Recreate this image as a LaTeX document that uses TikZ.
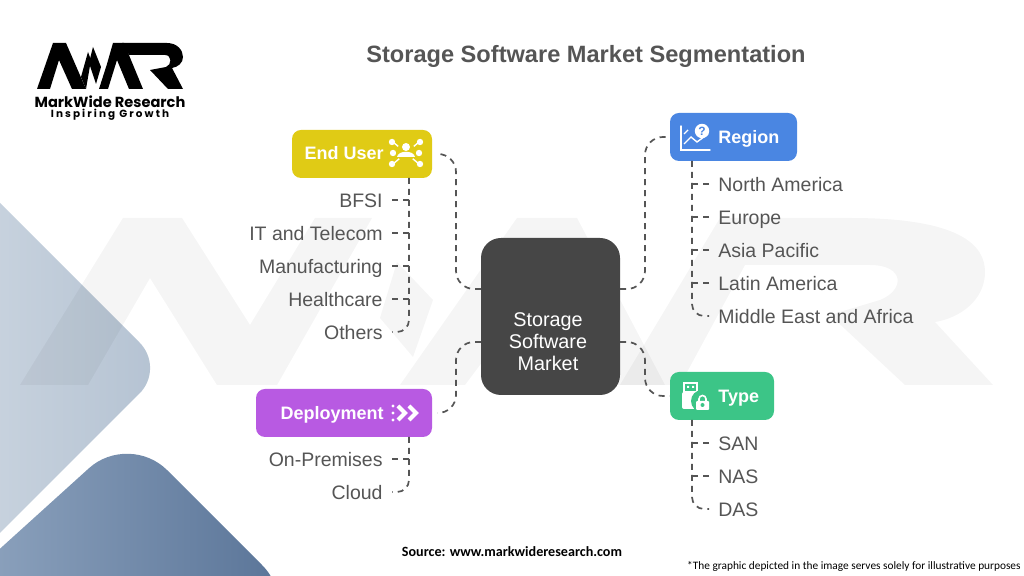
\documentclass[tikz,border=0pt]{standalone}
\usepackage{fontspec}
\setmainfont{Liberation Sans}
\newfontfamily\carlitofont{Carlito}
\newfontfamily\logofont{Poppins}
\newfontfamily\taglinefont[LetterSpace=20]{Poppins}
\definecolor{inkgrey}{HTML}{555555}
\definecolor{hubgrey}{HTML}{464646}
\definecolor{enduseryellow}{HTML}{E0CB15}
\definecolor{regionblue}{HTML}{4A86E2}
\definecolor{typegreen}{HTML}{3CC587}
\definecolor{deploypurple}{HTML}{B85AE2}
\definecolor{palefrom}{HTML}{CBD5E0}
\definecolor{paleto}{HTML}{B4C2D2}
\definecolor{deepfrom}{HTML}{93A8C2}
\definecolor{deepto}{HTML}{577296}
\tikzset{
  segbox/.style={rectangle,rounded corners=4.5pt,inner sep=0pt},
  hubbox/.style={rectangle,rounded corners=10pt,fill=hubgrey,inner sep=0pt,minimum width=69.5pt,minimum height=78.5pt},
  boxtext/.style={text=white,font=\fontsize{9}{11}\selectfont\bfseries,inner sep=0pt,text height=7pt,text depth=0pt},
  leafleft/.style={anchor=east,text=inkgrey,font=\fontsize{9.75}{11}\selectfont,inner sep=0pt,text height=7.8pt,text depth=0pt},
  leafright/.style={anchor=west,text=inkgrey,font=\fontsize{9.75}{11}\selectfont,inner sep=0pt,text height=7.8pt,text depth=0pt},
  linkline/.style={draw=inkgrey,line width=0.85pt,dash pattern=on 3pt off 2.5pt},
  iconline/.style={draw=white,line width=0.7pt},
}
\begin{document}
\begin{tikzpicture}[x=0.5pt,y=-0.5pt]
  \useasboundingbox (0,0) rectangle (1024,576);

  % corner shapes
  \begin{scope}
    \clip (0,0) rectangle (1024,576);
    \shade[left color=palefrom,right color=paleto,rounded corners=18pt] (-40,163) -- (165,368) -- (-40,573) -- cycle;
    \shade[left color=deepfrom,right color=deepto,rounded corners=27pt] (129,432) -- (300,603) -- (-60,603) -- cycle;
  \end{scope}

  % watermark
  \fill[black,opacity=0.04] (20,385) -- (123,218) -- (182,218) -- (250,325) -- (315,218) -- (372,218) -- (277,385) -- (217,385) -- (150,278) -- (88,385) -- cycle;
  \fill[black,opacity=0.04] (397,262) -- (433,300) -- (413,357) -- (380,318) -- cycle;
  \fill[black,opacity=0.04] (400,385) -- (517,218) -- (577,218) -- (665,385) -- (605,385) -- (545,278) -- (465,385) -- cycle;
  \fill[black,opacity=0.04] (620,385) -- (720,218) -- (850,218) .. controls (960,218) and (985,245) .. (985,272) .. controls (985,300) and (960,318) .. (935,322) -- (993,385) -- (905,385) -- (830,315) -- (880,300) .. controls (905,290) and (905,265) .. (870,265) -- (745,265) -- (680,385) -- cycle;

  % logo
  \fill[black] (37,89) -- (53,43) -- (66,43) -- (86,89) -- (72,89) -- (59,60) -- (50,89) -- cycle;
  \fill[black] (81,77) -- (88,52) -- (91,60) -- (86,89) -- cycle;
  \fill[black] (93,47) -- (101,67) -- (96,84) -- (89,63) -- cycle;
  \fill[black] (99,89) -- (107,64) -- (113,43) -- (124,43) -- (143,89) -- (129,89) -- (117,60) -- (108,89) -- cycle;
  \fill[black] (122,43) -- (167,43) .. controls (177,43) and (183,50) .. (183,57) .. controls (183,63) and (178,67) .. (172,68) -- (183,89) -- (168,89) -- (150,70) -- (166,67) .. controls (172,65) and (172,55) .. (165,55) -- (129,55) -- cycle;
  \node[font=\logofont\fontsize{7.3}{8}\selectfont\bfseries,text=black,inner sep=0pt] (logoname) at (110,102) {MarkWide Research};
  \node[font=\taglinefont\fontsize{5.2}{6}\selectfont\bfseries,text=black,inner sep=0pt] (logotag) at (110,115) {Inspiring Growth};

  % title
  \node[font=\fontsize{11.8}{13}\selectfont\bfseries,text=inkgrey,inner sep=0pt] (title) at (586,56) {Storage Software Market Segmentation};

  % boxes
  \node[hubbox,align=center] (hub) at (550.5,316.5) {};
  \node[align=center,text=white,font=\fontsize{9.9}{11}\selectfont,inner sep=0pt] (hubtext) at (548,342) {Storage\\Software\\Market};
  \node[segbox,fill=enduseryellow,minimum width=70pt,minimum height=24pt] (enduser) at (362,154) {};
  \node[segbox,fill=regionblue,minimum width=63.5pt,minimum height=24pt] (region) at (733.5,137) {};
  \node[segbox,fill=typegreen,minimum width=52pt,minimum height=24pt] (type) at (722,396) {};
  \node[segbox,fill=deploypurple,minimum width=88pt,minimum height=24pt] (deployment) at (344,413) {};
  \node[boxtext,anchor=east] (endusertext) at (384,153) {End User};
  \node[boxtext,anchor=west] (regiontext) at (718,137) {Region};
  \node[boxtext,anchor=west] (typetext) at (718,396) {Type};
  \node[boxtext,anchor=east] (deploymenttext) at (384,413) {Deployment};

  % leaves
  \node[leafleft] (bfsi) at (383,200) {BFSI};
  \node[leafleft] (telecom) at (383,233) {IT and Telecom};
  \node[leafleft] (manufacturing) at (383,266) {Manufacturing};
  \node[leafleft] (healthcare) at (383,299) {Healthcare};
  \node[leafleft] (others) at (383,332) {Others};
  \node[leafleft] (premises) at (383,459) {On-Premises};
  \node[leafleft] (cloud) at (383,492) {Cloud};
  \node[leafright] (northamerica) at (718,184) {North America};
  \node[leafright] (europe) at (718,217) {Europe};
  \node[leafright] (asiapacific) at (718,250) {Asia Pacific};
  \node[leafright] (latinamerica) at (718,283) {Latin America};
  \node[leafright] (middleeast) at (718,316) {Middle East and Africa};
  \node[leafright] (san) at (718,443) {SAN};
  \node[leafright] (nas) at (718,476) {NAS};
  \node[leafright] (das) at (718,509) {DAS};

  % connection points
  \coordinate (hubNW) at (481,289);
  \coordinate (hubNE) at (620,289);
  \coordinate (hubSW) at (481,342);
  \coordinate (hubSE) at (620,342);
  \coordinate (bendNW) at (456,289);
  \coordinate (bendNE) at (645,289);
  \coordinate (bendSW) at (456,342);
  \coordinate (bendSE) at (645,342);
  \coordinate (endusertrunk) at (409,178);
  \coordinate (regiontrunk) at (692,161);
  \coordinate (typetrunk) at (692,420);
  \coordinate (deploymenttrunk) at (409,437);

  % hub links
  \draw[linkline,rounded corners=9pt,shorten >=2.5pt] (hubNW) -- (bendNW) |- (enduser.east);
  \draw[linkline,rounded corners=9pt,shorten >=2pt] (hubNE) -- (bendNE) |- (region.west);
  \draw[linkline,rounded corners=9pt] (hubSE) -- (bendSE) |- (type.west);
  \draw[linkline,rounded corners=9pt,shorten >=2.5pt] (hubSW) -- (bendSW) |- (deployment.east);

  % trunks
  \draw[linkline,rounded corners=6pt,shorten >=4.5pt] (endusertrunk) |- (others.east);
  \draw[linkline,rounded corners=6pt,shorten >=4.5pt] (deploymenttrunk) |- (cloud.east);
  \draw[linkline,rounded corners=6pt,shorten >=4.5pt] (regiontrunk) |- (middleeast.west);
  \draw[linkline,rounded corners=6pt,shorten >=4.5pt] (typetrunk) |- (das.west);

  % branches
  \foreach \leaf in {bfsi,telecom,manufacturing,healthcare}
    \draw[linkline,shorten <=4.5pt] (\leaf.east) -- (\leaf.east -| endusertrunk);
  \draw[linkline,shorten <=4.5pt] (premises.east) -- (premises.east -| deploymenttrunk);
  \foreach \leaf in {northamerica,europe,asiapacific,latinamerica}
    \draw[linkline,shorten <=4.5pt] (\leaf.west) -- (\leaf.west -| regiontrunk);
  \foreach \leaf in {san,nas}
    \draw[linkline,shorten <=4.5pt] (\leaf.west) -- (\leaf.west -| typetrunk);

  % end user icon
  \foreach \dx/\dy in {-13/-11,13/-11,-13/11,13/11}
    \draw[iconline] (406,153) -- ++(\dx,\dy);
  \foreach \dx/\dy in {-14/-11,14/-11,-14/11,14/11,-13/0,13/0}
    \fill[white] (406+\dx,153+\dy) circle (1.6pt);
  \fill[enduseryellow] (406,152) ellipse (5pt and 4.5pt);
  \fill[white] (406,147) circle (2pt);
  \fill[white] (397,157) .. controls (398,150) and (414,150) .. (415,157) -- cycle;

  % deployment icon
  \draw[white,line width=2pt] (398,406) -- (405,413) -- (398,420);
  \draw[white,line width=2pt] (409,406) -- (416,413) -- (409,420);
  \fill[white] (393,406) circle (0.8pt) (393,413) circle (0.8pt) (393,420) circle (0.8pt);

  % region icon
  \draw[iconline,line cap=round] (681,126) -- (681,150) -- (710,150);
  \draw[iconline] (684,144) -- (691,137) -- (697,142) -- (708,134);
  \draw[iconline] (684,134) -- (688,130);
  \fill[white] (702,131) circle (3.6pt);
  \node[text=regionblue,font=\fontsize{6}{6}\selectfont\bfseries,inner sep=0pt] (regionmark) at (702,131) {?};

  % type icon
  \fill[white,rounded corners=1pt] (682,392) rectangle (699,409);
  \draw[iconline] (684,383) rectangle (697,392);
  \fill[white] (687,386) rectangle (689,388) (692,386) rectangle (694,388);
  \fill[typegreen] (702,401) circle (5.5pt);
  \draw[iconline,line width=0.8pt] (699,402) -- (699,399) arc (180:360:3.5) -- (706,402);
  \fill[white,rounded corners=0.5pt] (696,401) rectangle (709,410);
  \fill[typegreen] (702.5,405) circle (1pt);

  % footer
  \node[font=\carlitofont\fontsize{7.06}{8}\selectfont\bfseries,text=black,inner sep=0pt] (source) at (512,552) {Source: www.markwideresearch.com};
  \node[font=\carlitofont\fontsize{5.67}{8}\selectfont,text=black,anchor=east,inner sep=0pt] (disclaimer) at (1021,566) {*The graphic depicted in the image serves solely for illustrative purposes};
\end{tikzpicture}
\end{document}
